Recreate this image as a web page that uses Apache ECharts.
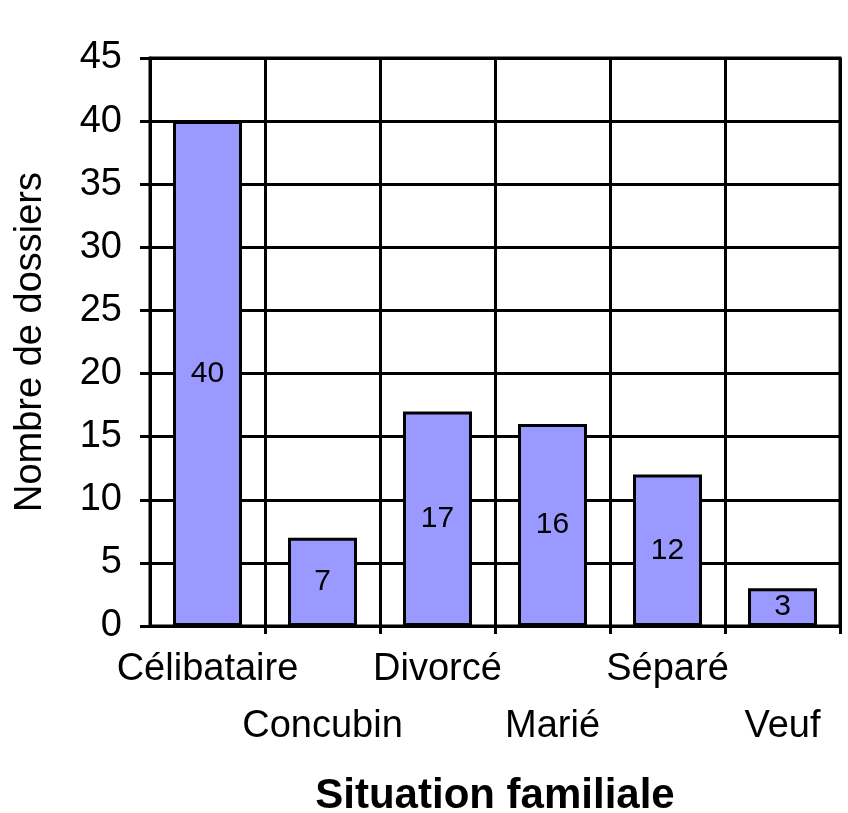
<!DOCTYPE html>
<html>
<head>
<meta charset="utf-8">
<script src="https://cdn.jsdelivr.net/npm/echarts@6/dist/echarts.min.js"></script>
<style>
    html, body { margin: 0; padding: 0; background: #fff; }
    #chart { width: 848px; height: 813px; }
</style>
</head>
<body>
<div id="chart"></div>
<script>
    // données
    const categories = ['Célibataire', 'Concubin', 'Divorcé', 'Marié', 'Séparé', 'Veuf']
    const dossiers = [40, 7, 17, 16, 12, 3]
    const yTicks = { min: 0, max: 45, interval: 5 }

    const font = 'Liberation Sans, Arial, sans-serif'

    const myChart = echarts.init(document.getElementById('chart'))

    const option = {
        animation: false,
        backgroundColor: '#fff',
        grid: {
            left: 150,
            right: 8,
            top: 58,
            bottom: 187,
            containLabel: false,
            outerBoundsMode: 'none',
            show: true,
            borderColor: '#000',
            borderWidth: 3,
            backgroundColor: 'transparent'
        },
        xAxis: {
            type: 'category',
            data: categories,
            name: 'Situation familiale',
            nameLocation: 'middle',
            nameGap: 149,
            nameTextStyle: { fontFamily: font, fontSize: 42, fontWeight: 'bold', color: '#000' },
            axisLine: { lineStyle: { color: '#000', width: 3 } },
            axisTick: {
                show: true,
                length: 8,
                lineStyle: { color: '#000', width: 3 },
                interval: (i) => i !== 0 && i !== categories.length
            },
            axisLabel: {
                interval: 0,
                margin: 15,
                fontFamily: font,
                fontSize: 38,
                color: '#000',
                lineHeight: 57,
                verticalAlign: 'top',
                formatter: (v, i) => (i % 2 === 1 ? '\n' + v : v)
            },
            splitLine: { show: true, lineStyle: { color: '#000', width: 3 } }
        },
        yAxis: {
            type: 'value',
            min: yTicks.min,
            max: yTicks.max,
            interval: yTicks.interval,
            name: 'Nombre de dossiers',
            nameLocation: 'middle',
            nameGap: 100,
            nameTextStyle: { fontFamily: font, fontSize: 38, color: '#000' },
            axisLine: { show: true, lineStyle: { color: '#000', width: 3 } },
            axisTick: { show: true, length: 10, lineStyle: { color: '#000', width: 3 } },
            axisLabel: { margin: 28, fontFamily: font, fontSize: 38, color: '#000' },
            splitLine: { show: true, lineStyle: { color: '#000', width: 3 } }
        },
        series: [
            {
                type: 'bar',
                data: dossiers,
                barCategoryGap: '40%',
                itemStyle: { color: '#9999FF', borderColor: '#000', borderWidth: 3 },
                label: {
                    show: true,
                    position: 'inside',
                    fontFamily: font,
                    fontSize: 30,
                    color: '#000'
                }
            }
        ]
    }

    myChart.setOption(option)
</script>
</body>
</html>
